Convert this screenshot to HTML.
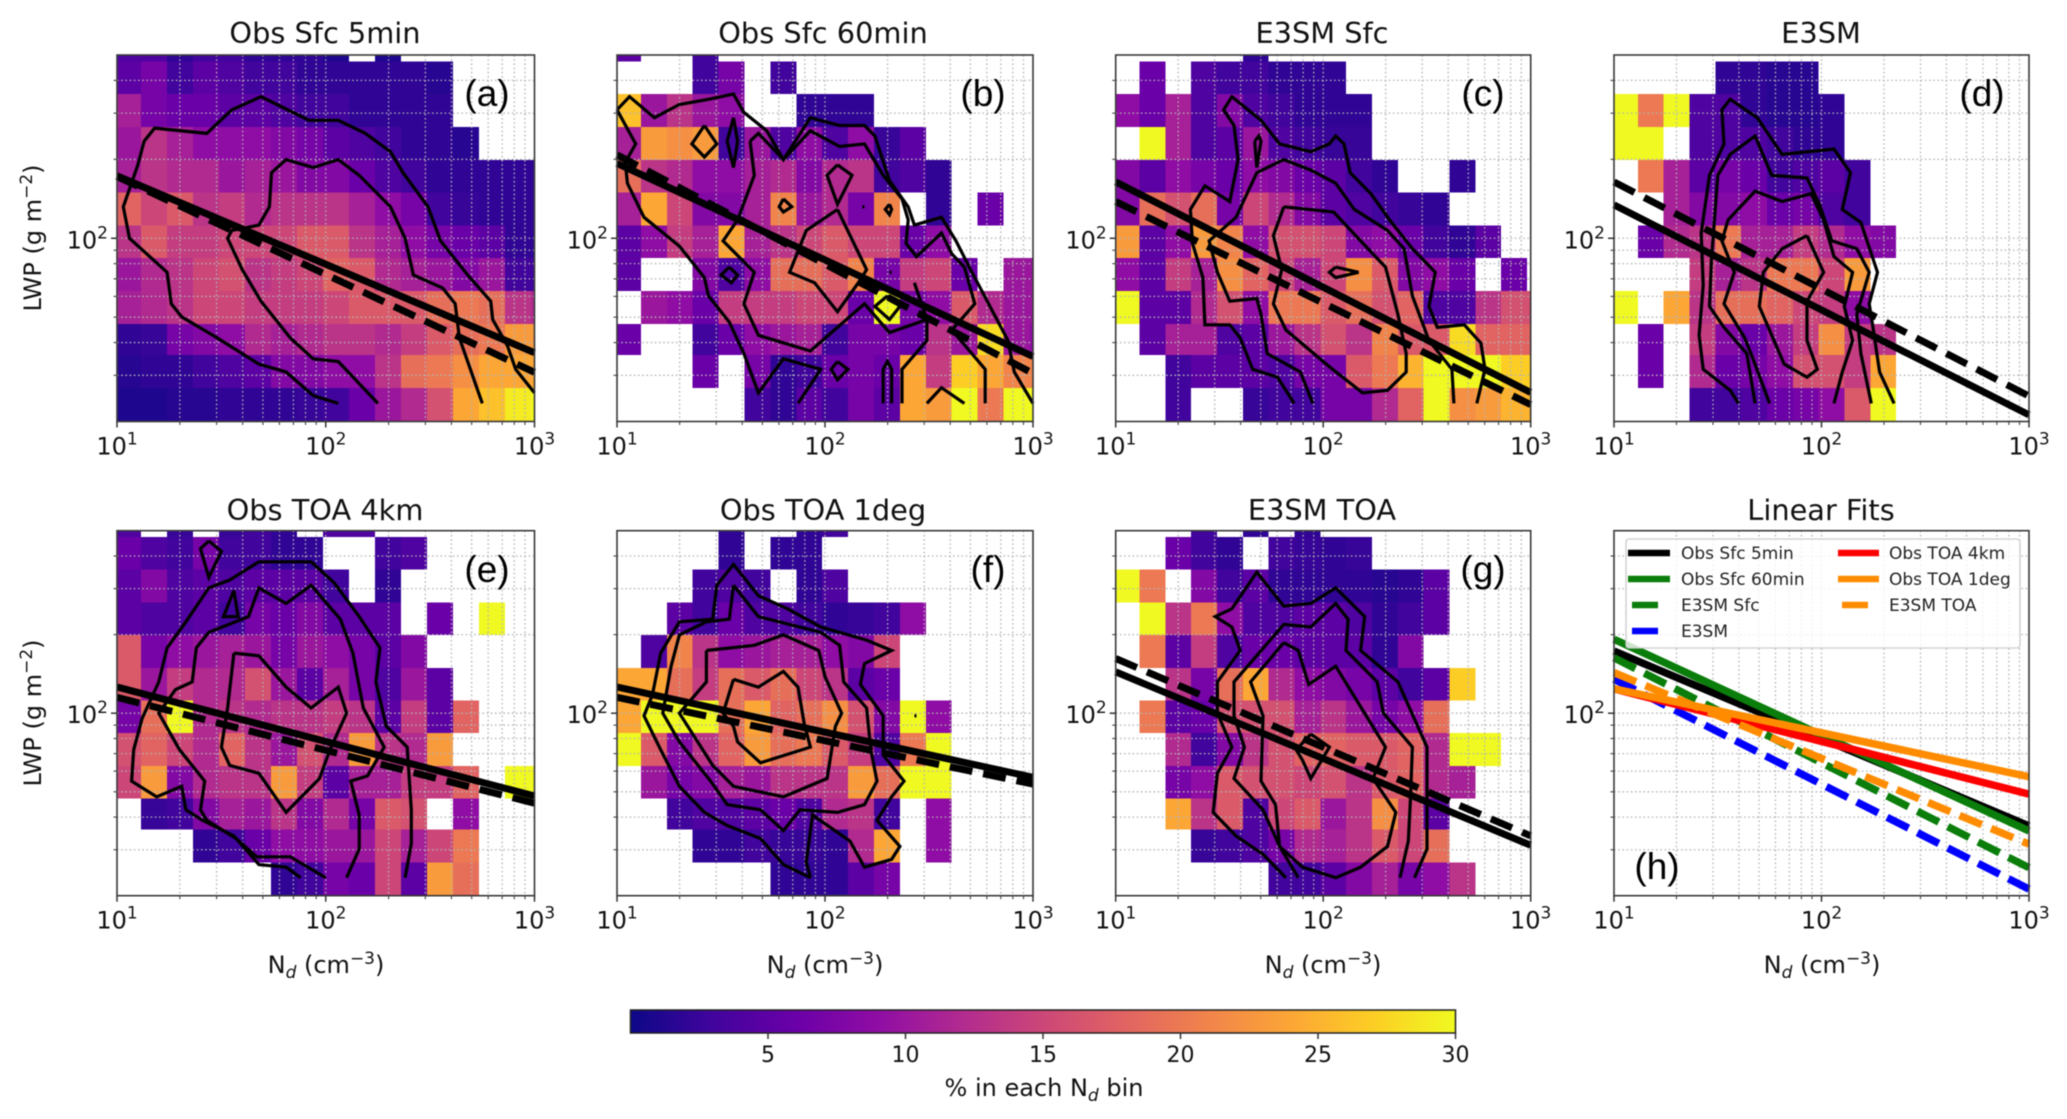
<!DOCTYPE html>
<html lang="en">
<head>
<meta charset="utf-8">
<title>LWP vs Nd joint histograms</title>
<style>
html,body{margin:0;padding:0;background:#fff;}
svg{display:block;filter:blur(0.5px);}
text{font-family:"DejaVu Sans","Liberation Sans",sans-serif;fill:#111;}
.title{font-size:28.8px;text-anchor:middle;}
.axlabel{font-size:24px;text-anchor:middle;}
.tag{font-family:"Liberation Sans",sans-serif;font-size:37px;text-anchor:middle;fill:#000;}
.leg{font-size:17px;fill:#222;}
</style>
</head>
<body>
<svg id="chart" width="2067" height="1119" viewBox="0 0 2067 1119" xmlns="http://www.w3.org/2000/svg">
<defs>
<linearGradient id="plasma-gradient" x1="0" x2="1" y1="0" y2="0">
<stop offset="0" stop-color="#0d0887"/><stop offset="0.1" stop-color="#41049d"/><stop offset="0.2" stop-color="#6a00a8"/><stop offset="0.3" stop-color="#8f0da4"/><stop offset="0.4" stop-color="#b12a90"/><stop offset="0.5" stop-color="#cc4778"/><stop offset="0.6" stop-color="#e16462"/><stop offset="0.7" stop-color="#f1844b"/><stop offset="0.8" stop-color="#fca636"/><stop offset="0.9" stop-color="#fcce25"/><stop offset="1" stop-color="#f0f921"/>
</linearGradient>
</defs>
<rect width="2067" height="1119" fill="#fff"/>
<g id="panels"></g>

<text class="title" x="325" y="43">Obs Sfc 5min</text>
<text class="title" x="823" y="43">Obs Sfc 60min</text>
<text class="title" x="1322" y="43">E3SM Sfc</text>
<text class="title" x="1821" y="43">E3SM</text>
<text class="title" x="325" y="520">Obs TOA 4km</text>
<text class="title" x="823" y="520">Obs TOA 1deg</text>
<text class="title" x="1322" y="520">E3SM TOA</text>
<text class="title" x="1821" y="520">Linear Fits</text>

<text class="axlabel" transform="translate(41 238) rotate(-90)">LWP (g m<tspan font-size="17" dy="-9">−2</tspan><tspan dy="9">)</tspan></text>
<text class="axlabel" transform="translate(41 713) rotate(-90)">LWP (g m<tspan font-size="17" dy="-9">−2</tspan><tspan dy="9">)</tspan></text>
<text class="axlabel" x="326" y="973">N<tspan font-size="17" font-style="italic" dy="5">d</tspan><tspan dy="-5"> (cm</tspan><tspan font-size="17" dy="-9">−3</tspan><tspan dy="9">)</tspan></text>
<text class="axlabel" x="825" y="973">N<tspan font-size="17" font-style="italic" dy="5">d</tspan><tspan dy="-5"> (cm</tspan><tspan font-size="17" dy="-9">−3</tspan><tspan dy="9">)</tspan></text>
<text class="axlabel" x="1323" y="973">N<tspan font-size="17" font-style="italic" dy="5">d</tspan><tspan dy="-5"> (cm</tspan><tspan font-size="17" dy="-9">−3</tspan><tspan dy="9">)</tspan></text>
<text class="axlabel" x="1822" y="973">N<tspan font-size="17" font-style="italic" dy="5">d</tspan><tspan dy="-5"> (cm</tspan><tspan font-size="17" dy="-9">−3</tspan><tspan dy="9">)</tspan></text>

<text class="tag" x="487" y="106">(a)</text>
<text class="tag" x="983" y="106">(b)</text>
<text class="tag" x="1483" y="106">(c)</text>
<text class="tag" x="1982" y="106">(d)</text>
<text class="tag" x="487" y="582">(e)</text>
<text class="tag" x="988" y="582">(f)</text>
<text class="tag" x="1483" y="582">(g)</text>
<text class="tag" x="1657" y="879">(h)</text>

<g>
<rect x="1626" y="539" width="394" height="109" rx="3" fill="#fff" fill-opacity="0.8" stroke="#ccc" stroke-width="1.3"/>
<line x1="1628" x2="1670" y1="553" y2="553" stroke="#000" stroke-width="6.5"/>
<text class="leg" x="1681" y="559">Obs Sfc 5min</text>
<line x1="1628" x2="1670" y1="579" y2="579" stroke="#0a7d0a" stroke-width="6.5"/>
<text class="leg" x="1681" y="585">Obs Sfc 60min</text>
<line x1="1632" x2="1658" y1="605" y2="605" stroke="#0a7d0a" stroke-width="6.5"/>
<text class="leg" x="1681" y="611">E3SM Sfc</text>
<line x1="1632" x2="1658" y1="631" y2="631" stroke="#0000ff" stroke-width="6.5"/>
<text class="leg" x="1681" y="637">E3SM</text>
<line x1="1838" x2="1879" y1="553" y2="553" stroke="#ff0000" stroke-width="6.5"/>
<text class="leg" x="1889" y="559">Obs TOA 4km</text>
<line x1="1838" x2="1879" y1="579" y2="579" stroke="#ff8c00" stroke-width="6.5"/>
<text class="leg" x="1889" y="585">Obs TOA 1deg</text>
<line x1="1842" x2="1868" y1="605" y2="605" stroke="#ff8c00" stroke-width="6.5"/>
<text class="leg" x="1889" y="611">E3SM TOA</text>
</g>

<g id="colorbar">
<rect x="630.5" y="1010" width="825" height="23" fill="url(#plasma-gradient)" stroke="#222" stroke-width="1.5"/>
<text class="axlabel" x="1044" y="1096">% in each N<tspan font-size="17" font-style="italic" dy="5">d</tspan><tspan dy="-5"> bin</tspan></text>
</g>
</svg>

<script>
// ---- shared axes data ----
const ndBinEdges = [10,13.03,17.36,23.12,30.8,41.02,54.64,72.78,96.94,129.1,172,229.1,305.1,406.4,541.3,721.1,960.5,1000];
const lwpBinEdges = [500,473,355,266,199,149.2,111.8,83.9,62.8,47.1,35.8,26.8,20];
const xMajorTicks = [10,100,1000];
const xTickExponents = ['1','2','3'];
const xMinorTicks = [20,30,40,50,60,70,80,90,200,300,400,500,600,700,800,900];
const yMajorTicks = [100];
const yTickExponents = ['2'];
const yMinorTicks = [30,40,50,60,70,80,90,200,300,400];
const colorbarTicks = [5,10,15,20,25,30];
const fitEndpointsNd = [10,1000];

// ---- heatmap values: % in each Nd bin, rows from high LWP to low LWP, 0 = empty ----
const heatA = [[4,4,2,3,3,2,2,2,1,0,1],[5,7,3,5,4,3,3,2,2,2,2,2,1.5],[11,7,6,6,5,5,4,3,3,2,2,2,2],[10,13,11,9,9,9,8,7,5,4,3,2,2,1.5],[11,13,12,12,10,11,10,8,8,6,4,3,2,2,2,2,2],[18,15,17,13,14,12,13,13,13,11,9,7,3,2.5,2,2,2],[13,17,14,14,15,15,15,17,17,13,11,9,7,6,5,2,2],[10,12,13,15,16,13,14,15,18,17,12,11,10,8,10,3,3],[11,12,13,15,15,14,14,14,15,17,17,17,19,20,19,13,12],[2,2.5,7,8,9,12,11,12,13,13,12,14,17,19,20,23,23],[1.5,2,2,3,4,5,8,8,9,9,13,19,20,22,24,24,24],[1,1,1.5,1.5,2,2,2,2.5,3,6,10,12,16,24,26,29,30]];
const heatB = [[5,0,0,3],[0,0,0,3,7,0,3],[26,10,13,10,9,0,0,2,2,2],[11,23,22,23,3,10,4,9,4,9,2.5,5],[19,13,12,9,9,11,12,8,12,13,3,4,2],[11,24,15,8,8,11,21,10,12,7,21,0,2,0,6],[5,9,14,11,24,11,13,15,17,15,15,6,9],[5,0,0,8,4,9,19,19,17,21,7,14,15,6,0,10,10],[0,10,9,6,14,14,14,15,15,6,30,7,9,17,12,10,10],[6,0,0,3,6,9,10,11,3,7,7,6,13,10,28,10,9],[0,0,0,6,0,7,2,3,6,7,6,24,14,27,24,21,21],[0,0,0,0,0,3,2,5,3,7,5,24,23,30,20,30,30]];
const heatC = [[0,0,0,0,0,2],[0,6,0,4,3,3,2,2,2],[9,6,11,4,8,4,3,2,2,2],[0,30,11,4,5,10,4,3,2.5,2.5],[8,5,9,7,6,9,8,6,5,3,2,0,0,2],[8,19,16,19,7,15,12,8,5,4,3,2.5,2],[23,5,9,23,21,9,16,16,15,8,9,6,3,2,5],[9,5,14,11,22,18,15,11,15,22,17,8,9,6,0,6],[30,5,5,12,16,9,20,20,17,19,16,18,4,4,13,16,16],[0,5,11,11,4,5,10,13,16,13,21,17,17,28,18,18,18],[0,0,3,5,5,5,4,7,7,17,20,25,30,30,30,27,27],[0,0,3,0,0,2.5,3,3,7,7,12,18,30,22,23,25,25]];
const heatD = [[],[0,0,0,0,2,2,1.5,1.5],[30,20,30,4,4,2,1.5,1.5,2],[30,30,0,4,4,4,3,2,2],[0,20,11,5,7,6,3,4,5,3],[0,0,11,8,8,9,6,7,4,3],[0,6,12,13,20,11,11,14,12,9,8],[0,0,0,14,11,13,20,20,15,23],[30,0,24,13,19,19,18,15,14,9],[0,6,0,14,8,6,10,14,22,14,13],[0,6,0,12,6,7,9,16,16,14,24],[0,0,0,3,3,4,6,7,9,17,30]];
const heatE = [[4,0,2.5,0,2.5,3,2,0,4,4],[6,4,3,7,3,3,2,2,0,0,3,4],[5,8,4,5,4,5,5,5,3,0,2],[5,4,4,5,3,7,6,8,5,5,5,0,6,0,30],[17,7,9,10,11,10,7,10,9,7,5,8],[17,10,14,12,12,16,10,5,11,7,4,10,5],[7,19,30,12,13,12,13,13,14,13,5,14,5,18],[16,18,15,12,18,13,10,16,12,23,13,12,23],[15,23,8,12,13,13,23,14,5,11,11,14,14,18,0,30,30],[0,2.5,3,8,11,10,13,8,12,7,17,16,0,9],[0,0,0,2,3,6,9,9,10,10,15,11,15,20],[0,0,0,0,0,0,2,3,7,6,15,5,23,19]];
const heatF = [[0,0,0,0,2,0,0,2,3],[0,0,0,0,2,0,2,2],[0,0,0,3,4,3,0,2,4],[0,0,5,3,6,4,4,3,2,2.5,3,9],[0,4,21,13,9,10,11,11,9,8,15],[24,24,19,14,19,17,19,15,13,5,6],[24,30,30,30,19,24,18,19,22,16,8,30,9],[30,17,8,13,18,23,19,20,17,14,4,20,30],[0,10,7,8,11,10,13,13,13,23,19,30,30],[0,0,3,4,4,5,6,4,12,13,3,0,9],[0,0,0,2,2,3,2.5,2.5,2,12,24,0,9],[0,0,0,0,0,0,2,2,2,5,7]];
const heatG = [[0,0,0,3,0,2,0,2],[0,0,6,3,2,0,3,2.5,2,2.5],[30,20,0,8,3,5,2,2,2,2,1.5,2,5],[0,30,13,20,9,4,4,5,5,4,2,3,5],[0,20,5,14,4,6,6,5,5,5,2,8],[0,0,13,7,19,24,12,9,8,7,5,3,5,27],[0,20,5,6,16,16,16,11,13,10,7,9,19],[0,0,12,3,8,13,16,18,18,17,17,18,12,30,30],[0,0,7,9,17,16,16,15,16,13,17,18,12,11],[0,0,24,13,17,4,15,17,10,13,22,15,5],[0,0,0,2.5,3,4,7,12,11,13,17,15,19],[0,0,0,0,0,0,3,3,5,8,11,7,9,13]];

// ---- contours: flat lists of log10(Nd), log10(LWP) pairs ----
const contoursA = [
[2.06,1.37,1.94,1.40,1.81,1.49,1.68,1.52,1.48,1.62,1.31,1.70,1.26,1.75,1.24,1.87,1.06,2.00,1.03,2.12,1.10,2.28,1.13,2.37,1.18,2.42,1.43,2.40,1.55,2.49,1.69,2.54,1.92,2.45,2.06,2.45,2.19,2.40,2.31,2.33,2.37,2.25,2.49,2.12,2.55,1.99,2.68,1.86,2.79,1.76,2.80,1.69,2.87,1.59,2.91,1.50,3.00,1.41],
[2.25,1.37,2.06,1.53,1.94,1.54,1.83,1.62,1.69,1.76,1.60,1.88,1.53,2.00,1.55,2.03,1.68,2.05,1.73,2.12,1.74,2.25,1.81,2.30,1.94,2.27,2.06,2.30,2.16,2.24,2.31,2.12,2.38,2.00,2.42,1.86,2.56,1.81,2.62,1.75,2.64,1.62,2.75,1.37]
];
const contoursB = [
[1.00,2.49,1.06,2.54,1.18,2.46,1.30,2.51,1.44,2.53,1.56,2.55,1.61,2.48,1.72,2.41,1.80,2.30,1.93,2.46,2.07,2.43,2.19,2.43,2.24,2.39,2.31,2.22,2.40,2.12,2.43,2.05,2.56,2.08,2.63,1.99,2.70,1.88,2.88,1.61,2.91,1.49,3.00,1.37],
[1.00,2.49,1.09,2.36,1.04,2.29,1.05,2.21,1.13,2.08,1.30,1.97,1.42,1.85,1.44,1.78,1.54,1.68,1.61,1.56,1.68,1.41,1.80,1.54,1.98,1.50,1.87,1.37],
[1.64,2.37,1.68,2.40,1.80,2.30,1.93,2.41,2.07,2.35,2.19,2.36,2.28,2.24,2.37,2.15,2.40,2.07,2.39,1.98,2.44,1.93,2.56,2.02,2.61,1.94,2.67,1.89,2.72,1.75,2.61,1.65,2.77,1.50,2.77,1.37],
[1.64,2.37,1.66,2.24,1.58,2.07,1.51,1.99,1.66,1.87,1.61,1.75,1.68,1.63,1.93,1.57,2.19,1.75,2.31,1.64,2.49,1.69,2.43,1.83,2.49,1.69,2.49,1.61,2.37,1.50,2.37,1.37],
[2.06,2.11,2.20,1.88,2.16,1.83,2.06,1.72,1.95,1.83,1.83,1.87,1.91,2.03,2.06,2.11],
[1.42,2.43,1.48,2.36,1.42,2.31,1.36,2.36,1.42,2.43],
[1.56,2.46,1.58,2.37,1.56,2.27,1.53,2.37,1.56,2.46],
[2.06,2.28,2.13,2.24,2.06,2.13,2.01,2.24,2.06,2.28],
[1.80,2.15,1.84,2.12,1.80,2.10,1.78,2.12,1.80,2.15],
[2.31,2.13,2.32,2.11,2.31,2.09,2.29,2.11,2.31,2.13],
[1.54,1.89,1.58,1.86,1.55,1.83,1.50,1.86,1.54,1.89],
[2.30,1.78,2.36,1.74,2.31,1.69,2.24,1.74,2.30,1.78],
[2.06,1.53,2.11,1.50,2.06,1.46,2.03,1.50,2.06,1.53],
[2.28,1.37,2.28,1.50,2.30,1.53,2.32,1.50,2.32,1.37],
[2.49,1.37,2.56,1.43,2.67,1.37],
[2.18,2.12,2.19,2.12],
[2.31,1.87,2.32,1.87]
];
const contoursC = [
[1.86,1.37,1.78,1.47,1.66,1.50,1.60,1.62,1.55,1.67,1.43,1.67,1.42,1.85,1.37,1.98,1.36,2.11,1.43,2.20,1.55,2.14,1.59,2.30,1.57,2.43,1.52,2.49,1.56,2.54,1.70,2.45,1.79,2.36,1.94,2.33,2.03,2.36,2.06,2.39,2.10,2.36,2.13,2.25,2.23,2.17,2.32,2.07,2.43,1.96,2.54,1.87,2.51,1.74,2.55,1.66,2.68,1.67,2.76,1.60,2.78,1.50,2.74,1.37],
[1.95,1.37,1.89,1.49,1.73,1.56,1.70,1.71,1.68,1.77,1.55,1.76,1.49,1.87,1.45,1.99,1.58,2.08,1.68,2.25,1.81,2.30,1.94,2.26,2.06,2.21,2.15,2.11,2.31,2.03,2.39,1.96,2.43,1.78,2.51,1.61,2.62,1.50,2.63,1.37],
[1.81,2.12,2.05,2.10,2.18,1.99,2.30,1.89,2.36,1.71,2.40,1.56,2.40,1.49,2.31,1.42,2.19,1.41,2.03,1.51,1.82,1.65,1.76,1.75,1.80,1.88,1.76,2.01,1.81,2.12],
[1.67,2.37,1.69,2.39,1.70,2.37,1.68,2.27,1.67,2.37],
[2.06,1.89,2.17,1.87,2.06,1.85,2.03,1.87,2.06,1.89]
];
const contoursD = [
[1.60,1.37,1.56,1.42,1.43,1.50,1.41,1.63,1.43,1.82,1.42,2.02,1.46,2.24,1.53,2.36,1.52,2.49,1.56,2.53,1.69,2.46,1.81,2.32,2.06,2.34,2.14,2.25,2.10,2.11,2.19,2.06,2.27,1.87,2.23,1.75,2.25,1.65,2.28,1.49,2.35,1.37],
[1.68,1.37,1.64,1.56,1.53,1.66,1.46,1.74,1.47,1.92,1.50,2.24,1.56,2.32,1.68,2.39,1.76,2.24,1.93,2.23,1.99,2.13,2.05,1.99,2.17,1.96,2.23,1.87,2.17,1.71,2.19,1.56,2.24,1.37],
[1.75,1.37,1.67,1.54,1.63,1.62,1.53,1.75,1.58,1.87,1.52,1.99,1.55,2.07,1.68,2.18,1.81,2.14,1.95,2.17,2.01,2.07,2.06,1.93,2.15,1.87,2.11,1.74,2.15,1.61,2.10,1.49,2.06,1.37],
[1.93,2.01,2.01,1.87,1.93,1.76,1.93,1.61,1.98,1.50,1.93,1.47,1.82,1.52,1.70,1.74,1.72,1.87,1.81,1.96,1.93,2.01]
];
const contoursE = [
[1.88,1.37,1.81,1.41,1.68,1.42,1.56,1.53,1.41,1.59,1.33,1.63,1.31,1.72,1.19,1.68,1.07,1.74,1.08,1.86,1.12,1.98,1.20,2.12,1.24,2.25,1.33,2.35,1.44,2.48,1.54,2.51,1.68,2.58,1.93,2.58,2.04,2.50,2.16,2.37,2.26,2.25,2.24,2.12,2.29,1.95,2.39,1.87,2.41,1.63,2.41,1.50,2.38,1.37],
[2.00,1.37,1.83,1.45,1.67,1.45,1.57,1.52,1.43,1.59,1.40,1.63,1.42,1.74,1.30,1.86,1.20,2.00,1.28,2.09,1.36,2.12,1.38,2.25,1.44,2.31,1.63,2.37,1.68,2.48,1.81,2.42,1.93,2.49,2.07,2.36,2.13,2.23,2.18,2.02,2.28,1.87,2.20,1.76,2.12,1.74,2.16,1.61,2.16,1.48,2.10,1.37],
[1.56,2.23,1.68,2.22,1.81,2.10,1.93,2.02,2.06,2.10,2.10,2.00,2.02,1.86,1.97,1.75,1.81,1.62,1.68,1.77,1.54,1.80,1.50,1.87,1.53,2.02,1.56,2.23],
[1.44,2.66,1.50,2.62,1.44,2.52,1.40,2.63,1.44,2.66],
[1.56,2.47,1.58,2.37,1.51,2.37,1.56,2.47]
];
const contoursF = [
[1.93,1.37,1.91,1.43,1.94,1.61,2.12,1.51,2.19,1.41,2.32,1.44,2.36,1.49,2.25,1.59,2.32,1.68,2.38,1.74,2.28,1.84,2.28,1.99,2.17,2.11,2.19,2.19,2.32,2.24,2.20,2.28,1.98,2.33,1.82,2.40,1.68,2.45,1.56,2.57,1.48,2.49,1.46,2.36,1.30,2.35,1.21,2.23,1.17,2.07,1.13,1.99,1.21,1.86,1.30,1.72,1.42,1.62,1.53,1.57,1.69,1.52,1.80,1.42,1.93,1.37],
[1.56,2.49,1.54,2.36,1.43,2.35,1.30,2.30,1.26,2.18,1.22,2.00,1.30,1.89,1.45,1.74,1.53,1.65,1.69,1.63,1.80,1.55,1.88,1.63,2.06,1.62,2.19,1.65,2.25,1.74,2.22,1.86,2.20,2.02,2.09,2.12,2.07,2.26,1.98,2.31,1.68,2.37,1.56,2.49],
[1.43,2.24,1.66,2.26,1.80,2.30,1.97,2.24,2.00,2.14,2.08,2.00,2.05,1.95,2.01,1.75,1.80,1.68,1.56,1.72,1.46,1.80,1.30,2.00,1.43,2.12,1.43,2.24],
[1.56,2.13,1.68,2.10,1.80,2.16,1.87,2.10,1.90,1.96,1.93,1.87,1.69,1.81,1.58,1.89,1.56,1.95,1.51,2.00,1.56,2.13],
[2.43,1.99,2.44,1.99]
];
const contoursG = [
[1.82,1.37,1.71,1.46,1.58,1.53,1.47,1.62,1.49,1.77,1.56,1.87,1.49,2.00,1.49,2.12,1.60,2.24,1.56,2.33,1.48,2.37,1.56,2.40,1.68,2.54,1.81,2.41,1.94,2.42,2.06,2.48,2.20,2.37,2.18,2.24,2.36,2.12,2.50,1.87,2.50,1.48,2.44,1.37],
[1.88,1.37,1.79,1.49,1.71,1.63,1.57,1.75,1.62,1.87,1.57,1.99,1.57,2.12,1.81,2.34,1.94,2.33,2.06,2.42,2.12,2.36,2.11,2.24,2.26,2.12,2.29,2.00,2.43,1.87,2.42,1.66,2.41,1.51,2.37,1.37],
[1.81,2.27,1.88,2.24,1.93,2.11,2.06,2.18,2.30,1.87,2.24,1.75,2.35,1.62,2.31,1.49,2.18,1.41,2.06,1.37,1.90,1.41,1.79,1.49,1.77,1.65,1.70,1.74,1.71,1.99,1.65,2.12,1.81,2.27],
[1.94,1.92,2.03,1.87,1.94,1.75,1.90,1.82,1.87,1.86,1.94,1.92]
];

// ---- fit lines: LWP at Nd = 10 and Nd = 1000 ----
const fitSolidA = [173,36.6];
const fitDashA = [172,30.8];
const fitSolidB = [193,35.4];
const fitDashB = [208,30.5];
const fitSolidC = [164,25.8];
const fitDashC = [138,23.2];
const fitSolidD = [134,21.2];
const fitDashD = [164,25];
const fitSolidE = [126,48.2];
const fitDashE = [115,45.2];
const fitSolidF = [126,56.8];
const fitDashF = [115,53.5];
const fitSolidG = [144,31.2];
const fitDashG = [162,33.9];
const fitsObsSfc5min = [173,37];
const fitsObsSfc60min = [192,35.4];
const fitsE3smSfc = [163,25.6];
const fitsE3sm = [135,21.2];
const fitsObsToa4km = [124,49];
const fitsObsToa1deg = [124,57.1];
const fitsE3smToa = [143,31.5];

// ---- colormap ----
const plasmaStops = ['#0d0887','#41049d','#6a00a8','#8f0da4','#b12a90','#cc4778','#e16462','#f1844b','#fca636','#fcce25','#f0f921'];
const colorMin = 0;
const colorMax = 30;

const NS = 'http://www.w3.org/2000/svg';
function mk(tag, attrs, parent){
  const el = document.createElementNS(NS, tag);
  for (const k in attrs) el.setAttribute(k, attrs[k]);
  parent.appendChild(el);
  return el;
}
function plasma(v){
  const t = Math.max(0, Math.min(1, (v - colorMin) / (colorMax - colorMin))) * (plasmaStops.length - 1);
  const i = Math.min(Math.floor(t), plasmaStops.length - 2), f = t - i;
  const a = plasmaStops[i], b = plasmaStops[i + 1];
  const ch = s => [1,3,5].map(p => parseInt(s.substr(p,2),16));
  const ca = ch(a), cb = ch(b);
  return 'rgb(' + ca.map((c,j) => Math.round(c + (cb[j]-c)*f)).join(',') + ')';
}
const X0 = Math.log10(10), X1 = Math.log10(1000), Y0 = Math.log10(20), Y1 = Math.log10(500);
function xScale(p, nd){ return p.x + (Math.log10(nd) - X0) / (X1 - X0) * p.w; }
function yScale(p, lwp){ return p.y + p.h - (Math.log10(lwp) - Y0) / (Y1 - Y0) * p.h; }

const root = document.getElementById('panels');
const TOP = {y:55, h:366.5}, BOT = {y:530.7, h:365};
const COLS = [{x:117,w:417.5},{x:617,w:416},{x:1115.7,w:415},{x:1614,w:415}];
const panelDefs = [
 {id:'a',c:0,r:TOP,heat:heatA,cont:contoursA,solid:fitSolidA,dash:fitDashA},
 {id:'b',c:1,r:TOP,heat:heatB,cont:contoursB,solid:fitSolidB,dash:fitDashB},
 {id:'c',c:2,r:TOP,heat:heatC,cont:contoursC,solid:fitSolidC,dash:fitDashC},
 {id:'d',c:3,r:TOP,heat:heatD,cont:contoursD,solid:fitSolidD,dash:fitDashD},
 {id:'e',c:0,r:BOT,heat:heatE,cont:contoursE,solid:fitSolidE,dash:fitDashE},
 {id:'f',c:1,r:BOT,heat:heatF,cont:contoursF,solid:fitSolidF,dash:fitDashF},
 {id:'g',c:2,r:BOT,heat:heatG,cont:contoursG,solid:fitSolidG,dash:fitDashG},
 {id:'h',c:3,r:BOT,heat:null,cont:[],fits:[
   {v:fitsObsSfc5min,color:'#000000',dash:false},
   {v:fitsObsSfc60min,color:'#0a7d0a',dash:false},
   {v:fitsE3smSfc,color:'#0a7d0a',dash:true},
   {v:fitsE3sm,color:'#0000ff',dash:true},
   {v:fitsObsToa4km,color:'#ff0000',dash:false},
   {v:fitsObsToa1deg,color:'#ff8c00',dash:false},
   {v:fitsE3smToa,color:'#ff8c00',dash:true}
 ]}
];

panelDefs.forEach(def => {
  const p = {x:COLS[def.c].x, w:COLS[def.c].w, y:def.r.y, h:def.r.h};
  const g = mk('g', {}, root);
  
  

  if (def.heat) {
    const hg = mk('g', {'shape-rendering':'crispEdges'}, g);
    
    
    def.heat.forEach((row, r) => {
      row.forEach((v, c) => {
        if (!v) return;
        const x0 = xScale(p, ndBinEdges[c]), x1 = xScale(p, ndBinEdges[c + 1]);
        const y0 = yScale(p, lwpBinEdges[r]), y1 = yScale(p, lwpBinEdges[r + 1]);
        const cell = mk('rect', {x:x0, y:y0, width:x1 - x0, height:y1 - y0, fill:plasma(v)}, hg);
        
        
      });
    });
  }

  const grid = mk('g', {stroke:'#b4b4b4','stroke-width':1.3,'stroke-dasharray':'1.6 2.6',fill:'none'}, g);
  
  
  xMajorTicks.concat(xMinorTicks).forEach(t => {
    const gx = mk('line', {x1:xScale(p,t), x2:xScale(p,t), y1:p.y, y2:p.y + p.h}, grid);
    
    
  });
  yMajorTicks.concat(yMinorTicks).forEach(t => {
    const gy = mk('line', {x1:p.x, x2:p.x + p.w, y1:yScale(p,t), y2:yScale(p,t)}, grid);
    
    
  });

  def.cont.forEach(flat => {
    let d = '';
    for (let i = 0; i < flat.length; i += 2) {
      d += (i ? 'L' : 'M') + xScale(p, Math.pow(10, flat[i])).toFixed(1) + ' ' + yScale(p, Math.pow(10, flat[i + 1])).toFixed(1);
    }
    const line = mk('path', {d:d, fill:'none', stroke:'#000', 'stroke-width':3.2, 'stroke-linejoin':'miter'}, g);
    
    
  });

  if (def.dash) {
    const ld = mk('line', {x1:xScale(p,fitEndpointsNd[0]), x2:xScale(p,fitEndpointsNd[1]), y1:yScale(p,def.dash[0]), y2:yScale(p,def.dash[1]), stroke:'#000','stroke-width':7,'stroke-dasharray':'23 11'}, g);
    
    
    const ls = mk('line', {x1:xScale(p,fitEndpointsNd[0]), x2:xScale(p,fitEndpointsNd[1]), y1:yScale(p,def.solid[0]), y2:yScale(p,def.solid[1]), stroke:'#000','stroke-width':7}, g);
    
    
  }
  if (def.fits) {
    def.fits.forEach(f => {
      const attrs = {x1:xScale(p,fitEndpointsNd[0]), x2:xScale(p,fitEndpointsNd[1]), y1:yScale(p,f.v[0]), y2:yScale(p,f.v[1]), stroke:f.color,'stroke-width':7.5};
      if (f.dash) attrs['stroke-dasharray'] = '24 10';
      const l = mk('line', attrs, g);
      
      
    });
  }

  const spine = mk('rect', {x:p.x, y:p.y, width:p.w, height:p.h, fill:'none', stroke:'#3a3a3a','stroke-width':1.6}, g);
  
  

  xMajorTicks.forEach((t, i) => {
    const tk = mk('line', {x1:xScale(p,t), x2:xScale(p,t), y1:p.y + p.h, y2:p.y + p.h + 6, stroke:'#333','stroke-width':1.5}, g);
    
    
    const lb = mk('text', {x:xScale(p,t), y:p.y + p.h + 33, 'text-anchor':'middle','font-size':24}, g);
    
    
    lb.appendChild(document.createTextNode('10'));
    const sp = mk('tspan', {'font-size':17, dy:-10}, lb);
    sp.textContent = xTickExponents[i];
  });
  xMinorTicks.forEach(t => {
    const tk = mk('line', {x1:xScale(p,t), x2:xScale(p,t), y1:p.y + p.h, y2:p.y + p.h + 3.5, stroke:'#444','stroke-width':1.1}, g);
    
    
  });
  yMajorTicks.forEach((t, i) => {
    const tk = mk('line', {x1:p.x - 6, x2:p.x, y1:yScale(p,t), y2:yScale(p,t), stroke:'#333','stroke-width':1.5}, g);
    
    
    const lb = mk('text', {x:p.x - 9, y:yScale(p,t) + 10, 'text-anchor':'end','font-size':24}, g);
    
    
    lb.appendChild(document.createTextNode('10'));
    const sp = mk('tspan', {'font-size':17, dy:-10}, lb);
    sp.textContent = yTickExponents[i];
  });
  yMinorTicks.forEach(t => {
    const tk = mk('line', {x1:p.x - 3.5, x2:p.x, y1:yScale(p,t), y2:yScale(p,t), stroke:'#444','stroke-width':1.1}, g);
    
    
  });
});

// colorbar ticks
const cb = document.getElementById('colorbar');
const cbX = v => 630.5 + (v - colorMin) / (colorMax - colorMin) * 825;
colorbarTicks.forEach(v => {
  const tk = mk('line', {x1:cbX(v), x2:cbX(v), y1:1033, y2:1039, stroke:'#333','stroke-width':1.5}, cb);
  
  
  const lb = mk('text', {x:cbX(v), y:1062, 'text-anchor':'middle','font-size':22}, cb);
  
  
  lb.textContent = String(v);
});
</script>
</body>
</html>
